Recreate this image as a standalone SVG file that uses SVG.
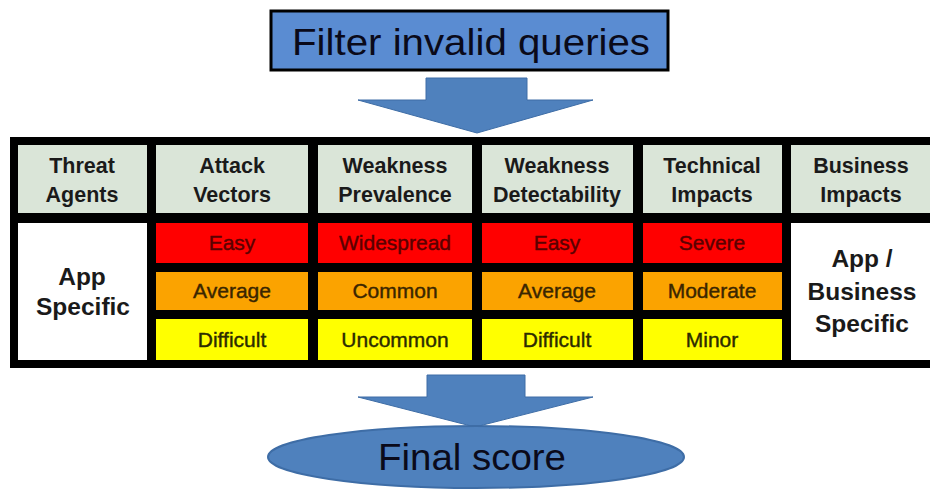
<svg xmlns="http://www.w3.org/2000/svg" width="930" height="489" viewBox="0 0 930 489">
<style>
.hdr{fill:#DAE5D8}
.red{fill:#FF0000}
.org{fill:#FBA300}
.yel{fill:#FFFF00}
.wht{fill:#FFFFFF}
.ht{font-family:"Liberation Sans",Arial,sans-serif;font-weight:bold;font-size:21.5px;fill:#1a1a1a;text-anchor:middle}
.dt{font-family:"Liberation Sans",Arial,sans-serif;font-size:21px;text-anchor:middle;stroke-width:0.4px}
.tr{fill:#5a0000;stroke:#5a0000}
.to{fill:#3a2600;stroke:#3a2600}
.ty{fill:#2c2c00;stroke:#2c2c00}
.big{font-family:"Liberation Sans",Arial,sans-serif;font-weight:bold;font-size:24.5px;fill:#1a1a1a;text-anchor:middle}
.arrow{fill:#4F81BD;stroke:#3E6DA6;stroke-width:1}
.title{font-family:"Liberation Sans",Arial,sans-serif;font-size:37px;fill:#0a0a1a;text-anchor:middle}
</style>
<rect width="930" height="489" fill="#FFFFFF"/>
<g id="connectors">
<polygon class="arrow" points="426,78 527,78 527,100 593,100 477,133 358,100 426,100"/>
<polygon class="arrow" points="427,375 525,375 525,397 593,397 475,427 358,397 427,397"/>
</g>
<g id="filter">
<rect x="271" y="11" width="397" height="59" fill="#5A8CD2" stroke="#000" stroke-width="3"/>
<text class="title" x="471" y="55" textLength="358" lengthAdjust="spacingAndGlyphs">Filter invalid queries</text>
</g>
<g id="table">
<rect x="10" y="137" width="920" height="231" fill="#000"/>
<g id="col-threat">
<rect class="hdr" x="18" y="145" width="129" height="68"/>
<text class="ht" x="82" y="173">Threat</text>
<text class="ht" x="82" y="202">Agents</text>
<rect class="wht" x="18" y="223" width="129" height="137"/>
<text class="big" x="82" y="285">App</text>
<text class="big" x="83" y="315">Specific</text>
</g>
<g id="col-attack">
<rect class="hdr" x="156" y="145" width="152" height="68"/>
<text class="ht" x="232" y="173">Attack</text>
<text class="ht" x="232" y="202">Vectors</text>
<rect class="red" x="156" y="223" width="152" height="40"/>
<text class="dt tr" x="232" y="250">Easy</text>
<rect class="org" x="156" y="272" width="152" height="38"/>
<text class="dt to" x="232" y="298">Average</text>
<rect class="yel" x="156" y="319" width="152" height="41"/>
<text class="dt ty" x="232" y="347">Difficult</text>
</g>
<g id="col-prevalence">
<rect class="hdr" x="318" y="145" width="154" height="68"/>
<text class="ht" x="395" y="173">Weakness</text>
<text class="ht" x="395" y="202">Prevalence</text>
<rect class="red" x="318" y="223" width="154" height="40"/>
<text class="dt tr" x="395" y="250">Widespread</text>
<rect class="org" x="318" y="272" width="154" height="38"/>
<text class="dt to" x="395" y="298">Common</text>
<rect class="yel" x="318" y="319" width="154" height="41"/>
<text class="dt ty" x="395" y="347">Uncommon</text>
</g>
<g id="col-detectability">
<rect class="hdr" x="482" y="145" width="151" height="68"/>
<text class="ht" x="557" y="173">Weakness</text>
<text class="ht" x="557" y="202">Detectability</text>
<rect class="red" x="482" y="223" width="151" height="40"/>
<text class="dt tr" x="557" y="250">Easy</text>
<rect class="org" x="482" y="272" width="151" height="38"/>
<text class="dt to" x="557" y="298">Average</text>
<rect class="yel" x="482" y="319" width="151" height="41"/>
<text class="dt ty" x="557" y="347">Difficult</text>
</g>
<g id="col-technical">
<rect class="hdr" x="643" y="145" width="139" height="68"/>
<text class="ht" x="712" y="173">Technical</text>
<text class="ht" x="712" y="202">Impacts</text>
<rect class="red" x="643" y="223" width="139" height="40"/>
<text class="dt tr" x="712" y="250">Severe</text>
<rect class="org" x="643" y="272" width="139" height="38"/>
<text class="dt to" x="712" y="298">Moderate</text>
<rect class="yel" x="643" y="319" width="139" height="41"/>
<text class="dt ty" x="712" y="347">Minor</text>
</g>
<g id="col-business">
<rect class="hdr" x="791" y="145" width="139" height="68"/>
<text class="ht" x="861" y="173">Business</text>
<text class="ht" x="861" y="202">Impacts</text>
<rect class="wht" x="791" y="223" width="139" height="137"/>
<text class="big" x="862" y="267">App /</text>
<text class="big" x="862" y="300">Business</text>
<text class="big" x="862" y="332">Specific</text>
</g>
</g>
<g id="final">
<ellipse cx="476" cy="457" rx="208" ry="31" fill="#4F81BD" stroke="#3E6DA6" stroke-width="2"/>
<text class="title" x="472" y="470" textLength="188" lengthAdjust="spacingAndGlyphs">Final score</text>
</g>
</svg>
